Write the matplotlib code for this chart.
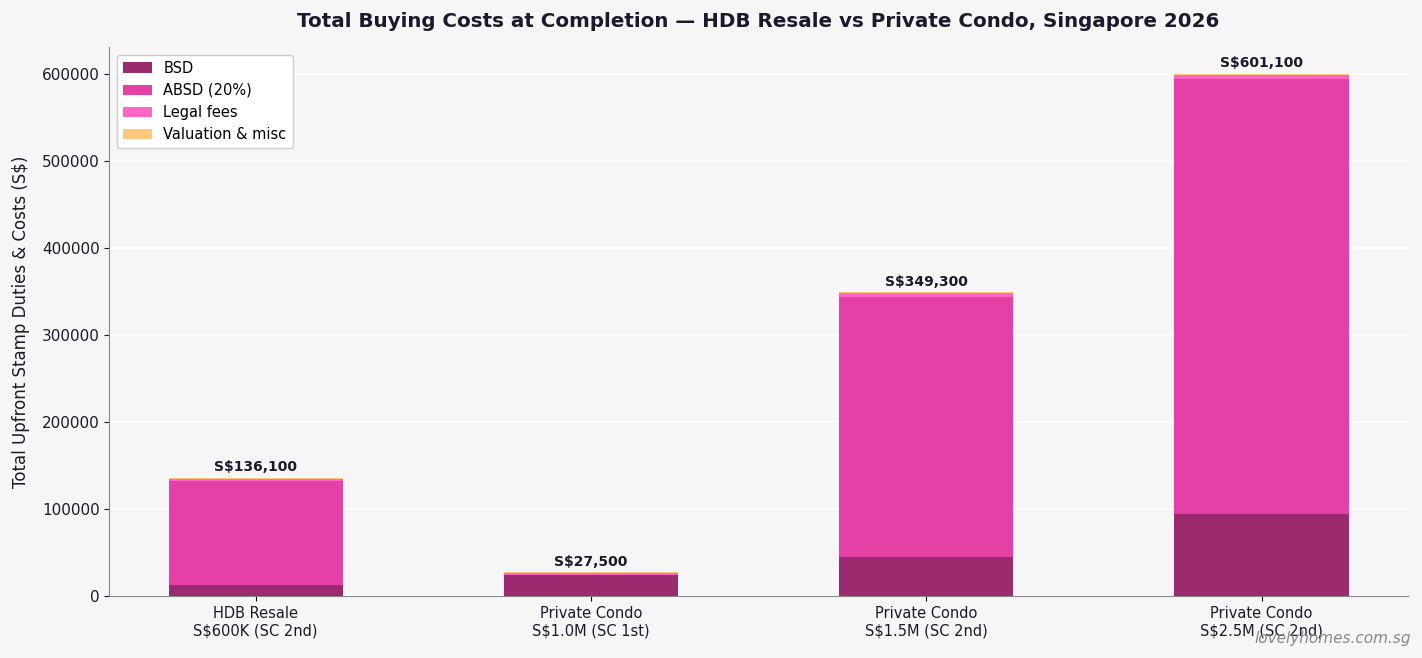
import matplotlib.pyplot as plt
import numpy as np

plt.rcParams['font.family'] = ['DejaVu Sans']

categories = ["HDB Resale\nS$600K (SC 2nd)", "Private Condo\nS$1.0M (SC 1st)",
              "Private Condo\nS$1.5M (SC 2nd)", "Private Condo\nS$2.5M (SC 2nd)"]
bsd = [12600, 24600, 44600, 94600]
absd = [120000, 0, 300000, 500000]
legal = [2500, 2500, 3500, 5000]
misc = [1000, 400, 1200, 1500]
labels = ["BSD", "ABSD (20%)", "Legal fees", "Valuation & misc"]
colors = ["#9b2a6e", "#e540a5", "#ff66c4", "#ffc77a"]

bg = "#f6f6f6"
fig, ax = plt.subplots(figsize=(14.22, 6.58), dpi=100)
fig.patch.set_facecolor(bg)
ax.set_facecolor(bg)

x = np.arange(len(categories))
bottom = np.zeros(len(categories))
for vals, lab, col in zip([bsd, absd, legal, misc], labels, colors):
    ax.bar(x, vals, width=0.52, bottom=bottom, color=col, label=lab, zorder=3)
    bottom += np.array(vals)

# 总额标签
for xi, tot in zip(x, bottom):
    ax.text(xi, tot + 4000, f"S${tot:,.0f}", ha="center", va="bottom",
            fontsize=10, fontweight="bold", color="#1a1a2e", zorder=4)

ax.set_xticks(x)
ax.set_xticklabels(categories, fontsize=10.5, color="#1a1a2e")
ax.tick_params(axis="y", labelsize=11, colors="#1a1a2e")
ax.set_ylim(0, bottom.max() * 1.05)
ax.set_ylabel("Total Upfront Stamp Duties & Costs (S$)", fontsize=12,
              color="#1a1a2e", labelpad=8.5)
ax.set_title("Total Buying Costs at Completion — HDB Resale vs Private Condo, Singapore 2026",
             fontsize=14.3, fontweight="bold", color="#1a1a2e", pad=15)
ax.grid(axis="y", color="white", linewidth=1.2, zorder=0)
ax.spines["top"].set_visible(False)
ax.spines["right"].set_visible(False)
ax.spines["left"].set_color("#888888")
ax.spines["bottom"].set_color("#888888")
ax.legend(loc="upper left", fontsize=10.5, framealpha=1, edgecolor="#cccccc")

fig.subplots_adjust(left=0.077, right=0.99, top=0.928, bottom=0.094)
fig.text(0.992, 0.018, "lovelyhomes.com.sg", ha="right", va="bottom",
         fontsize=11, style="italic", color="#888888")
plt.savefig("out.png", dpi=100, facecolor=bg)
